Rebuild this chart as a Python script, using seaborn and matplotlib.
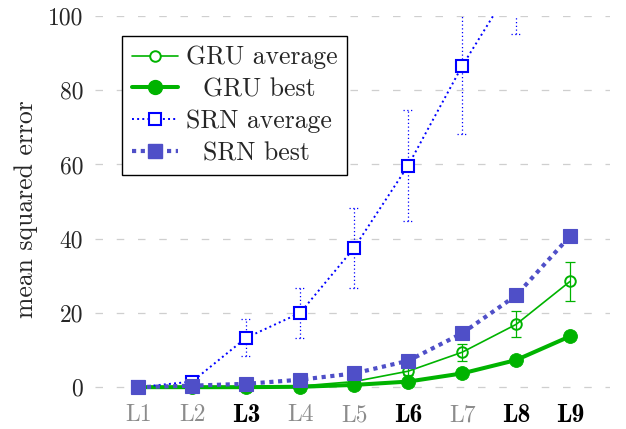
import numpy as np
import pandas as pd
import matplotlib
matplotlib.use("Agg")
import matplotlib.pyplot as plt
import seaborn as sns
from matplotlib.lines import Line2D

# ---- data ----
levels = ["L1", "L2", "L3", "L4", "L5", "L6", "L7", "L8", "L9"]
bold_levels = ["L3", "L6", "L8", "L9"]
gru_avg = [0.0, 0.0, 0.1, 0.3, 1.5, 4.3, 9.4, 16.9, 28.5]
gru_avg_err = [0.0, 0.0, 0.1, 0.2, 0.5, 1.0, 2.3, 3.5, 5.2]
gru_best = [0.0, 0.0, 0.0, 0.1, 0.6, 1.5, 3.7, 7.3, 13.7]
srn_avg = [0.0, 1.5, 13.3, 20.0, 37.5, 59.7, 86.5, 110.0, 130.0]
srn_avg_err = [0.0, 0.5, 5.0, 6.7, 10.8, 15.0, 18.3, 14.8, 20.0]
srn_best = [0.0, 0.4, 0.9, 2.0, 3.7, 7.1, 14.5, 24.7, 40.7]
series_names = ["GRU average", "GRU best", "SRN average", "SRN best"]
y_ticks = [0, 20, 40, 60, 80, 100]

GREEN = "#00b300"
BLUE = "#0000ff"
SLATE = "#4f4fc8"

sns.set_theme(style="white")
plt.rcParams["font.family"] = ["cmr10", "DejaVu Serif"]
plt.rcParams["axes.unicode_minus"] = False
plt.rcParams["mathtext.fontset"] = "cm"

pos = np.arange(len(levels))
df = pd.DataFrame({"pos": pos, "gru_avg": gru_avg, "gru_best": gru_best,
                   "srn_avg": srn_avg, "srn_best": srn_best})

fig = plt.figure(figsize=(6.26, 4.29), dpi=100)
ax = fig.add_axes([95 / 626, 1 - 402 / 429, (610 - 95) / 626, (402 - 16) / 429])

# GRU average
ax.errorbar(pos, gru_avg, yerr=gru_avg_err, fmt="none", ecolor=GREEN,
            elinewidth=0.9, capsize=3.8, capthick=0.9, zorder=2)
sns.lineplot(data=df, x="pos", y="gru_avg", ax=ax, color=GREEN, lw=1.2,
             marker="o", markersize=7.6, markerfacecolor="none",
             markeredgecolor=GREEN, markeredgewidth=1.4, zorder=2)
# GRU best
sns.lineplot(data=df, x="pos", y="gru_best", ax=ax, color=GREEN, lw=2.9,
             marker="o", markersize=10, markerfacecolor=GREEN,
             markeredgecolor=GREEN, markeredgewidth=0.6, zorder=3)
# SRN average
eb = ax.errorbar(pos, srn_avg, yerr=srn_avg_err, fmt="none", ecolor=BLUE,
                 elinewidth=0.9, capsize=0, zorder=4)
for coll in eb[2]:
    coll.set_linestyle((0, (1, 2)))
lo = np.array(srn_avg) - np.array(srn_avg_err)
hi = np.array(srn_avg) + np.array(srn_avg_err)
ax.hlines(np.concatenate([lo, hi]), np.concatenate([pos, pos]) - 0.09,
          np.concatenate([pos, pos]) + 0.09, colors=BLUE, lw=0.9,
          linestyles=(0, (1, 2)), zorder=4)
sns.lineplot(data=df, x="pos", y="srn_avg", ax=ax, color=BLUE, lw=1.4,
             linestyle=(0, (1, 1.65)), marker="s", markersize=8.1,
             markerfacecolor="white", markeredgecolor=BLUE,
             markeredgewidth=1.5, zorder=4)
# SRN best
sns.lineplot(data=df, x="pos", y="srn_best", ax=ax, color=SLATE, lw=3.0,
             linestyle=(0, (1, 1.1)), marker="s", markersize=10.5,
             markerfacecolor=SLATE, markeredgecolor=SLATE,
             markeredgewidth=0.8, zorder=5)

ax.set_xlim(-0.8, 8.74)
ax.set_ylim(-4, 100)
ax.set_xlabel("")
ax.set_ylabel("mean squared error", fontsize=18.5)
ax.yaxis.set_label_coords((38 - 95) / 515, 0.5)

ax.set_yticks(y_ticks)
ax.set_yticklabels([str(t) for t in y_ticks], fontsize=17)
ax.tick_params(axis="y", length=0, pad=8.6)
ax.set_xticks(pos)
ax.set_xticklabels(levels, fontsize=17)
ax.tick_params(axis="x", length=0, pad=1.5)
for lab in ax.get_xticklabels():
    if lab.get_text() in bold_levels:
        lab.set_fontfamily(["cmb10", "DejaVu Serif"])
        lab.set_fontsize(18.5)
        lab.set_color("black")
    else:
        lab.set_color("#8c8c8c")

ax.grid(False)
ax.yaxis.grid(True, color="#cfcfcf", lw=0.9, linestyle=(0, (6, 11)))
for s in ax.spines.values():
    s.set_visible(False)

handles = [
    Line2D([], [], color=GREEN, lw=1.2, marker="o", markersize=7.6,
           markerfacecolor="white", markeredgecolor=GREEN, markeredgewidth=1.4),
    Line2D([], [], color=GREEN, lw=2.9, marker="o", markersize=10,
           markerfacecolor=GREEN, markeredgecolor=GREEN),
    Line2D([], [], color=BLUE, lw=1.4, linestyle=(0, (1, 1.65)), marker="s",
           markersize=8.1, markerfacecolor="white", markeredgecolor=BLUE,
           markeredgewidth=1.5),
    Line2D([], [], color=SLATE, lw=3.0, linestyle=(0, (1, 1.1)), marker="s",
           markersize=10.5, markerfacecolor=SLATE, markeredgecolor=SLATE),
]
labels = ["GRU average", "  GRU best", "SRN average", "  SRN best"]
leg = ax.legend(handles, labels, loc="upper left",
                bbox_to_anchor=((122 - 95) / 515, 1 - (36 - 16) / 386),
                borderaxespad=0, fontsize=18.5, frameon=True, fancybox=False,
                framealpha=1, edgecolor="black", handlelength=1.8,
                handletextpad=0.3, borderpad=0.38, labelspacing=0.32)
leg.get_frame().set_linewidth(1.0)
leg.set_zorder(10)

fig.savefig("out.png", dpi=100)
